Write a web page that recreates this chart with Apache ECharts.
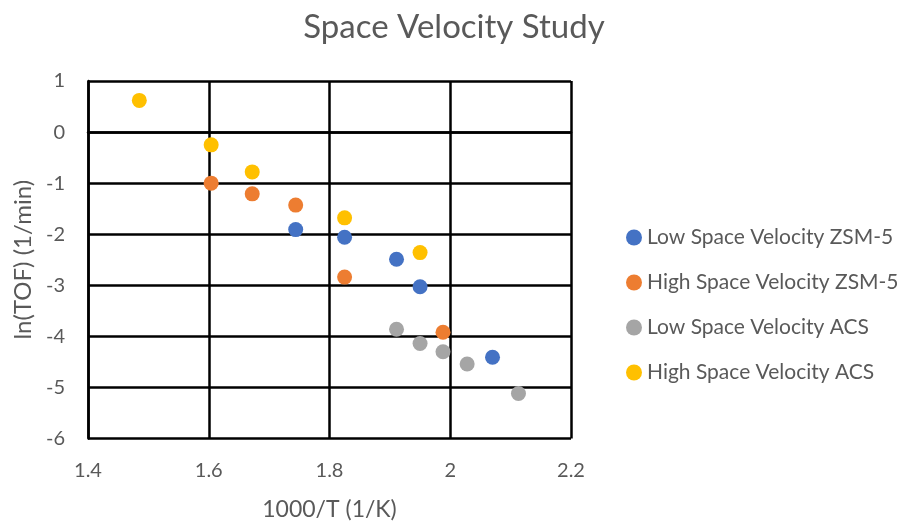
<!DOCTYPE html>
<html><head><meta charset="utf-8">
<script src="https://cdn.jsdelivr.net/npm/echarts@6/dist/echarts.min.js"></script>
<style>html,body{margin:0;padding:0;background:#fff}#c{width:908px;height:522px}</style>
</head><body><div id="c"></div>
<script>
const seriesNames = ['Low Space Velocity ZSM-5','High Space Velocity ZSM-5','Low Space Velocity ACS','High Space Velocity ACS'];
const colors = ['#4472C4','#ED7D31','#A5A5A5','#FFC000'];
const lowZsmX = [1.744, 1.825, 1.911, 1.950, 2.070];
const lowZsmY = [-1.91, -2.06, -2.49, -3.03, -4.41];
const highZsmX = [1.604, 1.672, 1.744, 1.825, 1.988];
const highZsmY = [-1.00, -1.21, -1.43, -2.84, -3.92];
const lowAcsX = [1.911, 1.950, 1.988, 2.028, 2.113];
const lowAcsY = [-3.86, -4.14, -4.30, -4.54, -5.12];
const highAcsX = [1.485, 1.604, 1.672, 1.825, 1.950];
const highAcsY = [0.62, -0.25, -0.78, -1.68, -2.36];
const xs = [lowZsmX, highZsmX, lowAcsX, highAcsX];
const ys = [lowZsmY, highZsmY, lowAcsY, highAcsY];
const font = 'Lato, "Open Sans", sans-serif';
const chart = echarts.init(document.getElementById('c'), null, {renderer:'canvas'});
chart.setOption({
  animation:false,
  title:{text:'Space Velocity Study', left:'center', top:6, textStyle:{fontFamily:font, fontSize:33, fontWeight:'normal', color:'#595959'}},
  legend:{orient:'vertical', left:621, top:222, itemGap:24, itemWidth:16, itemHeight:16, icon:'circle',
    textStyle:{fontFamily:font, fontSize:21, color:'#595959'}, data:seriesNames},
  grid:{left:88, right:337, top:81, bottom:83.5, outerBoundsMode:'none', containLabel:false},
  xAxis:{type:'value', min:1.4, max:2.2, interval:0.2,
    name:'1000/T (1/K)', nameLocation:'middle', nameGap:60,
    nameTextStyle:{fontFamily:font, fontSize:23, color:'#595959'},
    axisLine:{lineStyle:{color:'#000', width:2.5}}, axisTick:{show:false},
    axisLabel:{fontFamily:font, fontSize:20, color:'#595959', margin:22, formatter:v=>String(Math.round(v*10)/10)},
    splitLine:{show:true, lineStyle:{color:'#000', width:2.5}}},
  yAxis:{type:'value', min:-6, max:1, interval:1,
    name:'ln(TOF) (1/min)', nameLocation:'middle', nameGap:50,
    nameTextStyle:{fontFamily:font, fontSize:24, color:'#595959'},
    axisLine:{show:true, lineStyle:{color:'#000', width:2.5}}, axisTick:{show:false},
    axisLabel:{fontFamily:font, fontSize:20, color:'#595959', margin:23},
    splitLine:{show:true, lineStyle:{color:'#000', width:2.5}}},
  series: seriesNames.map((n,i)=>({
    name:n, type:'scatter', symbol:'circle', symbolSize:15,
    itemStyle:{color:colors[i], opacity:1},
    data: xs[i].map((x,j)=>[x, ys[i][j]])
  }))
});
</script></body></html>
